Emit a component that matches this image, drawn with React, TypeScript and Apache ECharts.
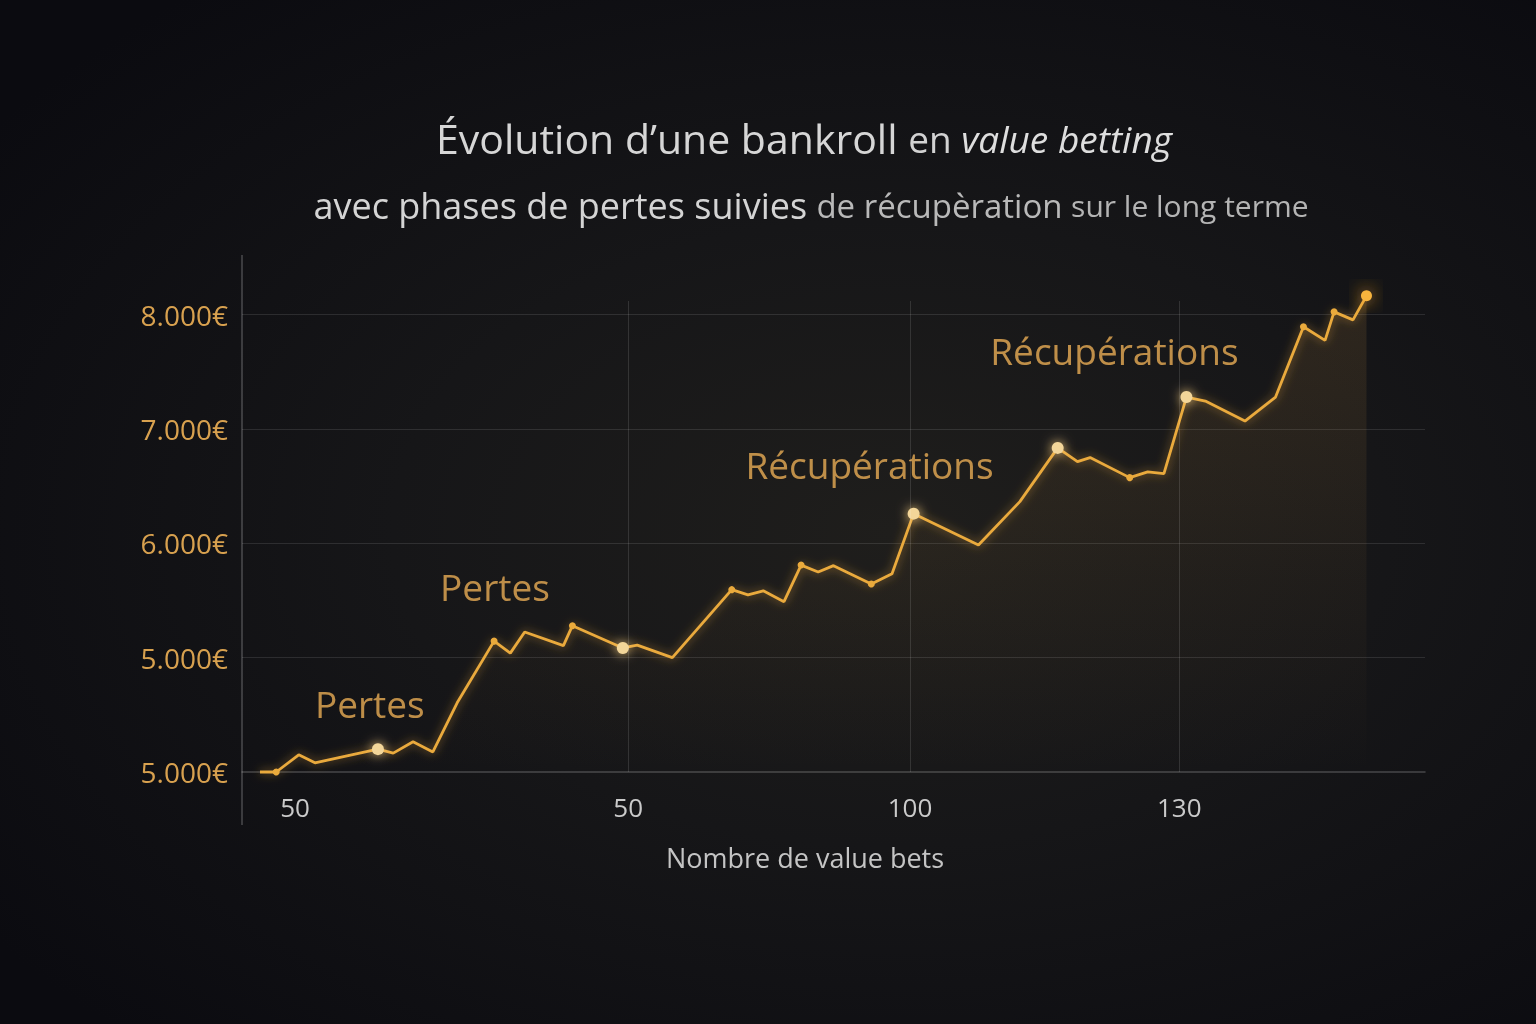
import React, { useEffect, useRef } from "react";
import * as echarts from "echarts";

// Bet number (x) and bankroll in € (y) for each point of the curve
const betNumbers = [
  2.0, 3.8, 6.3, 8.1, 15.1, 16.8, 19.0, 21.2, 23.9, 28.0, 29.8, 31.4, 35.7, 36.7,
  42.3, 43.9, 47.8, 54.4, 56.2, 57.9, 60.2, 62.1, 64.0, 65.7, 69.9, 72.2, 74.6,
  81.8, 86.4, 90.6, 92.8, 94.2, 98.6, 100.6, 102.4, 104.9, 107.0, 111.4, 114.8,
  117.9, 120.3, 121.3, 123.4, 124.9,
];
const bankroll = [
  4000, 4000, 4150, 4080, 4200, 4165, 4265, 4175, 4605, 5145, 5040, 5225, 5105, 5280,
  5085, 5110, 5000, 5595, 5550, 5585, 5490, 5810, 5750, 5805, 5645, 5735, 6260,
  5985, 6365, 6835, 6715, 6750, 6575, 6625, 6610, 7280, 7245, 7070, 7280,
  7895, 7775, 8025, 7955, 8165,
];

// Highlighted points (indices into the arrays above)
const smallDotIdx = [1, 9, 13, 17, 21, 24, 32, 39, 41];
const bigDotIdx = [4, 14, 26, 29, 35];
const finalIdx = 43;

// Axis ticks
const xTickValues = [5.9, 42.9, 74.2, 104.1];
const xTickLabels = ["50", "50", "100", "130"];
const xGridValues = [42.9, 74.2, 104.1];
const yTickValues = [4000, 5000, 6000, 7000, 8000];
const yTickLabels = ["5.000€", "5.000€", "6.000€", "7.000€", "8.000€"];

// Annotations
const annotationTexts = ["Pertes", "Pertes", "Récupérations", "Récupérations"];
const annotationX = [14.2, 28.1, 69.7, 96.9];
const annotationY = [4595, 5620, 6690, 7685];

const FONT = '"Open Sans", "Noto Sans", sans-serif';

export default function App() {
  const ref = useRef<HTMLDivElement>(null);

  useEffect(() => {
    if (!ref.current) return;
    const chart = echarts.init(ref.current, undefined, { renderer: "svg" });
    const gold = "#eaaa3c";

    const lineData = betNumbers.map((x, i) => {
      const item: any = { value: [x, bankroll[i]] };
      if (i === finalIdx) {
        item.symbol = "circle";
        item.symbolSize = 11;
        item.itemStyle = {
          color: "#f7b43e",
          shadowBlur: 18,
          shadowColor: "rgba(255,170,40,1)",
        };
      } else if (bigDotIdx.includes(i)) {
        item.symbol = "circle";
        item.symbolSize = 12;
        item.itemStyle = {
          color: "#f3d699",
          shadowBlur: 12,
          shadowColor: "rgba(255,215,140,0.9)",
        };
      } else if (smallDotIdx.includes(i)) {
        item.symbol = "circle";
        item.symbolSize = 7;
        item.itemStyle = { color: gold };
      } else {
        item.symbol = "none";
      }
      return item;
    });

    const annData = annotationTexts.map((t, i) => ({
      name: t,
      value: [annotationX[i], annotationY[i]],
    }));

    chart.setOption({
      animation: false,
      backgroundColor: "transparent",
      grid: { left: 242, right: 111, top: 301, bottom: 252, containLabel: false },
      xAxis: {
        type: "value",
        min: 0,
        max: 131.4,
        name: "Nombre de value bets",
        nameLocation: "middle",
        nameGap: 72,
        nameTextStyle: {
          color: "#c4c4c4",
          fontSize: 27,
          fontFamily: FONT,
          padding: [0, 57, 0, 0],
        },
        axisLine: { show: true, lineStyle: { color: "rgba(255,255,255,0.22)", width: 1.5 } },
        axisTick: { show: false },
        splitLine: { show: false },
        axisLabel: {
          customValues: xTickValues,
          color: "#cacaca",
          fontSize: 26,
          fontFamily: FONT,
          margin: 22,
          formatter: (v: number) => {
            const k = xTickValues.findIndex((t) => Math.abs(t - v) < 0.01);
            return k >= 0 ? xTickLabels[k] : "";
          },
        },
      },
      yAxis: {
        type: "value",
        min: 4000,
        max: 8120,
        interval: 1000,
        axisLine: { show: false },
        axisTick: { show: false },
        splitLine: {
          show: true,
          showMinLine: false,
          showMaxLine: false,
          lineStyle: { color: "rgba(255,255,255,0.11)", width: 1 },
        },
        axisLabel: {
          showMaxLabel: false,
          color: "#d8a14f",
          fontSize: 28,
          fontFamily: FONT,
          margin: 14,
          formatter: (v: number) => {
            const k = yTickValues.indexOf(v);
            return k >= 0 ? yTickLabels[k] : "";
          },
        },
      },
      graphic: [
        {
          type: "line",
          shape: { x1: 242, y1: 255, x2: 242, y2: 825 },
          style: { stroke: "rgba(255,255,255,0.3)", lineWidth: 1.2 },
          silent: true,
        },
        {
          type: "text",
          x: 804,
          y: 138,
          silent: true,
          style: {
            text: "{a|Évolution d’une bankroll }{b|en }{c|value betting}",
            align: "center",
            verticalAlign: "middle",
            rich: {
              a: { fontSize: 41, fontFamily: FONT, fill: "#d6d6d6" },
              b: { fontSize: 37, fontFamily: FONT, fill: "#d2d2d2" },
              c: { fontSize: 37, fontFamily: FONT, fontStyle: "italic", fill: "#dedede" },
            },
          },
        },
        {
          type: "text",
          x: 811,
          y: 205,
          silent: true,
          style: {
            text: "{a|avec phases de pertes suivies }{b|de récupèration }{c|sur le long terme}",
            align: "center",
            verticalAlign: "middle",
            rich: {
              a: { fontSize: 36, fontFamily: FONT, fill: "#d4d4d4" },
              b: { fontSize: 33, fontFamily: FONT, fill: "#b9b9b9" },
              c: { fontSize: 30, fontFamily: FONT, fill: "#b4b4b4" },
            },
          },
        },
      ],
      series: [
        {
          type: "line",
          data: lineData,
          clip: false,
          showAllSymbol: true,
          lineStyle: {
            color: gold,
            width: 2.8,
            shadowBlur: 10,
            shadowColor: "rgba(240,170,60,0.6)",
          },
          areaStyle: {
            origin: "start",
            color: new echarts.graphic.LinearGradient(0, 0, 0, 1, [
              { offset: 0, color: "rgba(205,150,70,0.20)" },
              { offset: 0.6, color: "rgba(205,150,70,0.07)" },
              { offset: 1, color: "rgba(205,150,70,0.0)" },
            ]),
          },
          z: 3,
          markLine: {
            silent: true,
            symbol: ["none", "none"],
            label: { show: false },
            lineStyle: { color: "rgba(255,255,255,0.12)", type: "solid", width: 1 },
            data: xGridValues.map((v) => ({ xAxis: v })),
          },
        },
        {
          type: "scatter",
          data: annData,
          symbol: "circle",
          symbolSize: 1,
          itemStyle: { color: "transparent" },
          z: 4,
          label: {
            show: true,
            position: "inside",
            formatter: (p: any) => p.name,
            color: "#e8ad55",
            fontSize: 37,
            fontWeight: 500,
            fontFamily: FONT,
          },
        },
      ],
    });

    return () => chart.dispose();
  }, []);

  return (
    <div
      ref={ref}
      style={{
        position: "fixed",
        left: 0,
        top: 0,
        width: 1536,
        height: 1024,
        background:
          "radial-gradient(ellipse 72% 68% at 58% 52%, #1f1e1c 0%, #161618 45%, #0b0b10 100%)",
      }}
    />
  );
}
